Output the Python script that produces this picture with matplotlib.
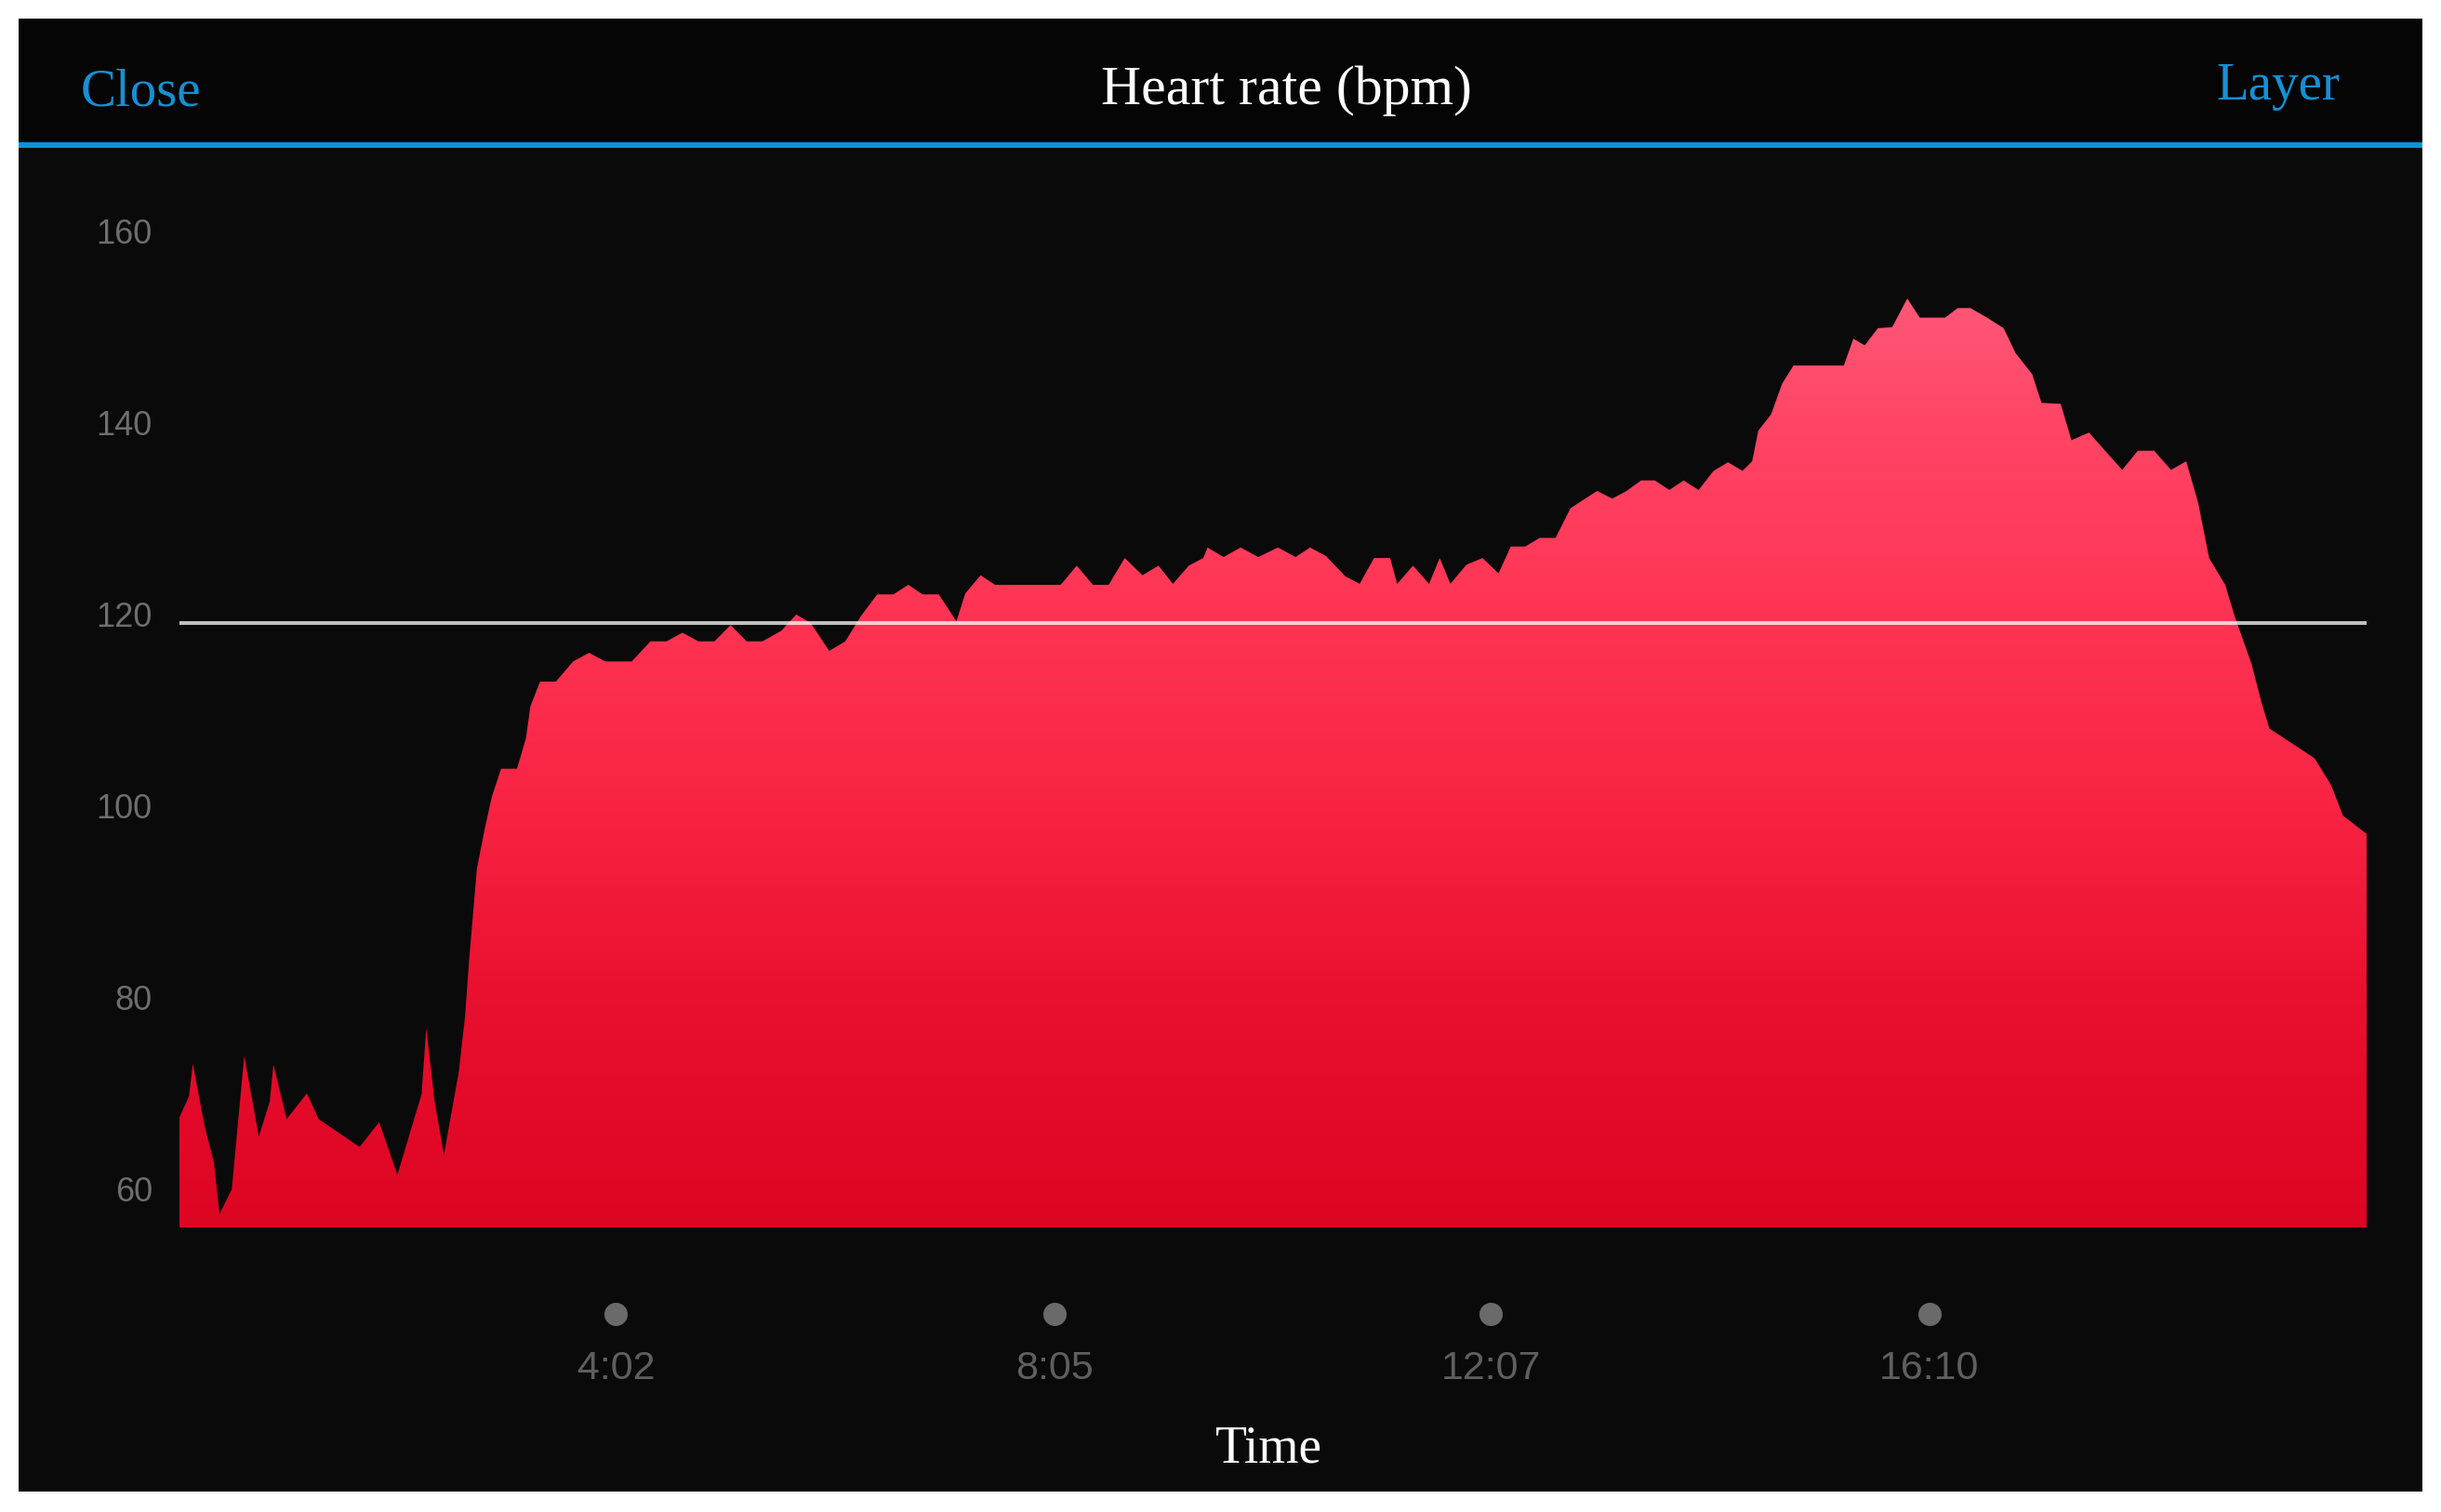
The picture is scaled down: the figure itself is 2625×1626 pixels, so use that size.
#!/usr/bin/env python3
"""
Heart rate (bpm) over a workout, dark app-style screen with gradient area fill.
"""
import numpy as np
import matplotlib
matplotlib.use('Agg')
import matplotlib.pyplot as plt
from matplotlib.patches import Rectangle, PathPatch
from matplotlib.colors import LinearSegmentedColormap
from matplotlib.transforms import ScaledTranslation, blended_transform_factory

# ----------------------------
# Data (elapsed seconds, heart rate in bpm)
# ----------------------------
elapsed_s = [
    0, 5.3, 7.4, 13.9, 19.1, 22.2, 29.0, 35.9, 44.0, 50.0,
    52.1, 59.4, 70.6, 77.2, 99.9, 110.7, 120.8, 134.2, 136.8, 141.4,
    146.6, 154.8, 158.3, 160.5, 164.9, 169.3, 173.2, 178.3, 187.1, 192.1,
    194.5, 199.9, 208.7, 218.2, 227.1, 236.0, 250.7, 261.1, 270.0, 278.8,
    287.7, 296.6, 305.5, 314.4, 323.2, 333.6, 341.9, 349.9, 360.2, 369.1,
    378.0, 386.8, 395.7, 404.0, 412.0, 420.9, 430.7, 435.6, 444.1, 452.1,
    488.5, 497.4, 506.3, 515.1, 524.0, 533.8, 542.7, 550.7, 559.5, 567.5,
    569.9, 578.8, 588.2, 598.0, 608.9, 618.7, 626.7, 635.6, 646.2, 654.2,
    662.2, 671.1, 675.0, 683.8, 692.7, 698.6, 704.5, 713.4, 722.3, 731.2,
    738.0, 746.0, 754.0, 762.8, 771.1, 777.6, 785.9, 794.2, 802.2, 810.2,
    817.9, 825.9, 833.8, 842.1, 850.4, 858.4, 866.4, 871.8, 875.2, 882.3,
    888.4, 894.7, 922.6, 927.9, 934.2, 941.5, 949.4, 957.8, 964.7, 978.8,
    985.7, 992.8, 1002.0, 1011.2, 1017.8, 1027.0, 1032.2, 1042.8, 1048.8, 1058.5,
    1076.9, 1085.6, 1094.6, 1104.0, 1112.4, 1119.0, 1125.1, 1134.0, 1139.3, 1148.7,
    1154.0, 1158.5, 1183.5, 1192.7, 1199.3, 1212.4,
]
heart_rate = [
    68.4, 70.6, 74.0, 67.5, 63.7, 58.3, 60.9, 74.8, 66.4, 70.0,
    73.9, 68.2, 70.9, 68.2, 65.3, 67.9, 62.4, 70.8, 77.7, 70.1,
    64.5, 73.1, 78.9, 84.7, 94.4, 98.6, 101.9, 104.8, 104.8, 108.0,
    111.3, 113.9, 113.9, 116.0, 116.9, 116.0, 116.0, 118.1, 118.1, 119.0,
    118.1, 118.1, 119.8, 118.1, 118.1, 119.2, 120.9, 120.0, 117.1, 118.1,
    120.8, 123.0, 123.0, 124.0, 123.0, 123.0, 120.2, 123.1, 125.0, 124.0,
    124.0, 126.0, 124.0, 124.0, 126.8, 125.0, 126.0, 124.1, 126.0, 126.8,
    127.9, 126.9, 127.9, 126.9, 127.9, 126.9, 127.9, 127.0, 124.9, 124.1,
    126.8, 126.8, 124.1, 126.0, 124.1, 126.8, 124.1, 126.1, 126.8, 125.2,
    128.0, 128.0, 128.9, 128.9, 132.0, 132.8, 133.8, 133.0, 133.8, 134.9,
    134.9, 133.9, 134.9, 133.9, 135.9, 136.8, 135.9, 136.9, 140.1, 141.8,
    145.0, 146.9, 146.9, 149.7, 149.0, 150.8, 150.9, 153.9, 151.9, 151.9,
    152.9, 152.9, 151.9, 150.8, 148.2, 146.0, 143.0, 142.9, 139.1, 139.9,
    136.0, 138.0, 138.0, 136.0, 136.9, 132.6, 126.8, 124.0, 120.7, 115.7,
    111.8, 109.0, 105.9, 103.1, 99.9, 98.0,
]
y_ticks = [60, 80, 100, 120, 140, 160]
x_tick_pos = [242, 485, 727, 970]
x_tick_labels = ['4:02', '8:05', '12:07', '16:10']
reference_bpm = 120


def main():
    fig = plt.figure(figsize=(26.25, 16.26), dpi=100, facecolor='white')

    # ----------------------------
    # 1. Screen background / header
    # ----------------------------
    fig.add_artist(Rectangle((0.0076, 0.0135), 0.9848, 0.9742, transform=fig.transFigure,
                             facecolor='#0a0a0a', edgecolor='none', zorder=-10))
    fig.add_artist(Rectangle((0.0076, 0.9059), 0.9848, 0.0818, transform=fig.transFigure,
                             facecolor='#050505', edgecolor='none', zorder=-9))
    fig.add_artist(Rectangle((0.0076, 0.9022), 0.9848, 0.0037, transform=fig.transFigure,
                             facecolor='#0b93d8', edgecolor='none', zorder=-8))

    serif = ['Liberation Serif', 'DejaVu Serif']
    fig.text(0.0331, 0.9305, 'Close', color='#1790d2', fontsize=41, family=serif,
             ha='left', va='baseline')
    fig.text(0.5269, 0.9311, 'Heart rate (bpm)', color='white', fontsize=43, family=serif,
             ha='center', va='baseline')
    fig.text(0.9585, 0.9342, 'Layer', color='#1790d2', fontsize=41, family=serif,
             ha='right', va='baseline')
    fig.text(0.5196, 0.0332, 'Time', color='white', fontsize=40, family=serif,
             ha='center', va='baseline')

    # ----------------------------
    # 2. Plot area
    # ----------------------------
    ax = fig.add_axes([193 / 2625, 0.1882, (2545 - 193) / 2625, 0.6847])
    ax.set_facecolor('none')
    y_floor, y_top = 56.9, 165
    x_end = elapsed_s[-1]
    ax.set_xlim(0, x_end)
    ax.set_ylim(y_floor, y_top)

    # gradient fill clipped to the area under the curve
    poly = ax.fill_between(elapsed_s, heart_rate, y_floor, facecolor='none', edgecolor='none')
    clip = PathPatch(poly.get_paths()[0], transform=ax.transData,
                     facecolor='none', edgecolor='none')
    ax.add_patch(clip)
    cmap = LinearSegmentedColormap.from_list('hr', [
        (0.0, '#dc0522'), (0.25, '#ea1030'), (0.45, '#f92444'),
        (0.65, '#ff3454'), (0.85, '#ff4566'), (1.0, '#ff5a7a')])
    grad = np.linspace(0, 1, 256).reshape(-1, 1)
    im = ax.imshow(grad, extent=[0, x_end, y_floor, 156], origin='lower',
                   aspect='auto', cmap=cmap, interpolation='bicubic', zorder=1)
    im.set_clip_path(clip)

    # reference line
    ax.axhline(reference_bpm, color='white', alpha=0.75, linewidth=2.9, zorder=3)

    for s in ax.spines.values():
        s.set_visible(False)

    # y ticks (labels sit slightly above their value)
    ax.set_yticks(y_ticks)
    ax.set_yticklabels([str(v) for v in y_ticks])
    ax.tick_params(axis='y', length=0, pad=21, labelsize=26, labelcolor='#6e6e6e')
    for lab in ax.get_yticklabels():
        lab.set_family(['Liberation Sans', 'DejaVu Sans'])
        lab.set_transform(lab.get_transform() + ScaledTranslation(0, 0.10, fig.dpi_scale_trans))

    # x ticks: dots + time labels
    ax.set_xticks(x_tick_pos)
    ax.set_xticklabels(x_tick_labels)
    ax.tick_params(axis='x', length=0, pad=95, labelsize=31, labelcolor='#5f5f5f')
    for lab in ax.get_xticklabels():
        lab.set_family(['Liberation Sans', 'DejaVu Sans'])
    trans = blended_transform_factory(ax.transData, ax.transAxes)
    ax.plot(x_tick_pos, [-0.0835] * len(x_tick_pos), 'o', color='#6a6a6a',
            markersize=18, markeredgewidth=0, transform=trans, clip_on=False)

    fig.savefig('out.png', dpi=100, facecolor='white')
    plt.close(fig)


if __name__ == "__main__":
    main()
